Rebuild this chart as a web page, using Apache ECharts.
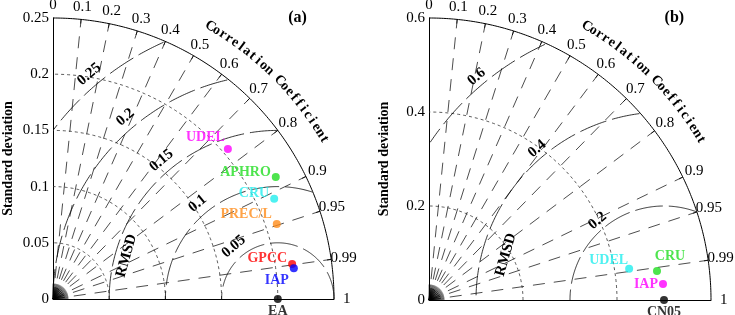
<!DOCTYPE html>
<html><head><meta charset="utf-8">
<script src="https://cdn.jsdelivr.net/npm/echarts@6/dist/echarts.min.js"></script>
<style>html,body{margin:0;padding:0;background:#fff}#c{width:735px;height:315px}</style>
</head><body><div id="c"></div>
<script>
// ---- data ----
const corrTicks = [0, 0.1, 0.2, 0.3, 0.4, 0.5, 0.6, 0.7, 0.8, 0.9, 0.95, 0.99, 1];
const corrRays = [0.1, 0.2, 0.3, 0.4, 0.5, 0.6, 0.7, 0.8, 0.9, 0.95, 0.99];

const stdMaxA = 0.25, stdStepA = 0.05;
const stdArcsA = [0.05, 0.1, 0.15, 0.2];
const rmsdA = [0.05, 0.1, 0.15, 0.2, 0.25];
const refNameA = 'EA', refStdA = 0.2;
const namesA = ['UDEL', 'APHRO', 'CRU', 'PREC/L', 'GPCC', 'IAP'];
const stdA = [0.205, 0.226, 0.216, 0.210, 0.215, 0.216];
const corrA = [0.759, 0.877, 0.911, 0.948, 0.9895, 0.992];

const stdMaxB = 0.6, stdStepB = 0.2;
const stdArcsB = [0.2, 0.4];
const rmsdB = [0.2, 0.4, 0.6];
const refNameB = 'CN05', refStdB = 0.5;
const namesB = ['UDEL', 'CRU', 'IAP'];
const stdB = [0.431, 0.489, 0.499];
const corrB = [0.988, 0.992, 0.9977];

// ---- styles ----
const SERIF = '"Liberation Serif", "Times New Roman", serif';
const colorsA = {UDEL:'#ff00ff', APHRO:'#22dd22', CRU:'#22eeee', 'PREC/L':'#ff8c1a', GPCC:'#ff0000', IAP:'#0000ff'};
const colorsB = {UDEL:'#22eeee', CRU:'#22dd22', IAP:'#ff00ff'};
const labA = {
  UDEL:{position:'left', distance:1, offset:[2,-12]},
  APHRO:{position:'left', distance:1, offset:[0,-5]},
  CRU:{position:'left', distance:1, offset:[0,-5]},
  'PREC/L':{position:'left', distance:1, offset:[0,-9]},
  GPCC:{position:'left', distance:1, offset:[0,-6]},
  IAP:{position:'left', distance:1, offset:[0,12]}
};
const labB = {
  UDEL:{position:'left', distance:0, offset:[3,-8]},
  CRU:{position:'top', distance:4, offset:[13,0]},
  IAP:{position:'left', distance:1, offset:[0,0]}
};

const deg = Math.PI / 180;

function makeDeco(M, R0, stdArcs, rmsd, rmsdOff, letter) {
  return function (params, api) {
    const P = (x, y) => api.coord([x, y]);
    const kids = [];
    const o = P(0, 0);
    const pl = (pts, st) => kids.push({type:'polyline', shape:{points:pts}, style:Object.assign({fill:'none', stroke:'#000', lineWidth:0.8}, st)});
    const txt = (p, t, font, rot, align) => kids.push({type:'text', x:p[0], y:p[1], rotation:rot||0,
      style:{text:t, font:font, fill:'#000', align:align||'center', verticalAlign:'middle'}});
    // origin fan
    for (let a = 0; a <= 90; a += 3) {
      const p = P(0.055*M*Math.cos(a*deg), 0.055*M*Math.sin(a*deg));
      kids.push({type:'line', shape:{x1:o[0], y1:o[1], x2:p[0], y2:p[1]}, style:{stroke:'#000', lineWidth:0.5}});
    }
    // std-dev arcs (short dash)
    stdArcs.forEach(s => {
      const pts = [];
      for (let a = 0; a <= 90.001; a += 1) pts.push(P(s*Math.cos(a*deg), s*Math.sin(a*deg)));
      pl(pts, {stroke:'#333', lineWidth:0.8, lineDash:[3,3]});
    });
    // correlation rays (long dash)
    corrRays.forEach(c => {
      const t = Math.acos(c);
      const p = P(M*Math.cos(t), M*Math.sin(t));
      kids.push({type:'line', shape:{x1:o[0], y1:o[1], x2:p[0], y2:p[1]}, style:{stroke:'#000', lineWidth:0.7, lineDash:[12,9]}});
    });
    // RMSD arcs
    rmsd.forEach(r => {
      let seg = []; const segs = [];
      for (let a = 0; a <= 180.001; a += 0.5) {
        const x = R0 + r*Math.cos(a*deg), y = r*Math.sin(a*deg);
        if (x >= 0 && x*x + y*y <= M*M*1.0001) seg.push(P(x, y));
        else if (seg.length) { segs.push(seg); seg = []; }
      }
      if (seg.length) segs.push(seg);
      segs.forEach(s => pl(s, {stroke:'#000', lineWidth:0.8, lineDash:[28,6]}));
      const la = 130, d = r + rmsdOff;
      txt(P(R0 + d*Math.cos(la*deg), d*Math.sin(la*deg)), String(r), 'bold 15px ' + SERIF, (la-90)*deg);
    });
    // RMSD title
    const ra = 164, rd = 0.7*R0;
    txt(P(R0 + rd*Math.cos(ra*deg), rd*Math.sin(ra*deg)), 'RMSD', 'bold 15px ' + SERIF, (ra-90)*deg);
    // outer arc
    const outer = [];
    for (let a = 0; a <= 90.001; a += 0.5) outer.push(P(M*Math.cos(a*deg), M*Math.sin(a*deg)));
    pl(outer, {stroke:'#000', lineWidth:1});
    // ticks + correlation labels
    corrTicks.forEach(c => {
      const t = Math.acos(c);
      if (c > 0 && c < 1) {
        const p1 = P(M*Math.cos(t), M*Math.sin(t)), p2 = P(0.985*M*Math.cos(t), 0.985*M*Math.sin(t));
        kids.push({type:'line', shape:{x1:p1[0], y1:p1[1], x2:p2[0], y2:p2[1]}, style:{stroke:'#000', lineWidth:0.8}});
      }
      txt(P(1.045*M*Math.cos(t), 1.045*M*Math.sin(t)), String(c), '15px ' + SERIF, 0);
    });
    // "Correlation Coefficient" along arc
    const title = 'Correlation Coefficient';
    const n = title.length, a0 = 60, a1 = 30.5, R = 1.12*M;
    for (let i = 0; i < n; i++) {
      const a = a0 + (a1 - a0) * i / (n - 1);
      if (title[i] === ' ') continue;
      txt(P(R*Math.cos(a*deg), R*Math.sin(a*deg)), title[i], 'bold 14px ' + SERIF, (a-90)*deg);
    }
    // panel letter
    txt(P(0.87*M, 1.0*M), letter, 'bold 16px ' + SERIF, 0);
    return {type:'group', children:kids};
  };
}

function pts(names, std, corr, colors, labs) {
  return names.map((nm, i) => ({
    name: nm,
    value: [std[i]*corr[i], std[i]*Math.sqrt(1 - corr[i]*corr[i])],
    itemStyle: {color: colors[nm]},
    label: Object.assign({show:true, formatter:nm, color:colors[nm], fontFamily:SERIF, fontWeight:'bold', fontSize:14}, labs[nm])
  }));
}

const refLabel = {show:true, position:'bottom', distance:1, color:'#000', fontFamily:SERIF, fontWeight:'bold', fontSize:14};

function yAx(idx, M, step) {
  return {gridIndex:idx, type:'value', min:0, max:M, interval:step,
    name:'Standard deviation', nameLocation:'middle', nameGap:38,
    nameTextStyle:{fontFamily:SERIF, fontWeight:'bold', fontSize:14, color:'#000'},
    axisLine:{show:true, lineStyle:{color:'#000', width:1}}, axisTick:{show:false},
    axisLabel:{color:'#000', fontFamily:SERIF, fontSize:15, margin:4}, splitLine:{show:false}};
}
function xAx(idx, M) {
  return {gridIndex:idx, type:'value', min:0, max:M,
    axisLine:{show:true, onZero:false, lineStyle:{color:'#000', width:1}}, axisTick:{show:false},
    axisLabel:{show:false}, splitLine:{show:false}};
}

const chart = echarts.init(document.getElementById('c'), null, {renderer:'canvas'});
chart.setOption({
  animation:false,
  backgroundColor:'#fff',
  grid:[
    {left:53, top:18, width:281, height:281},
    {left:429, top:18, width:282, height:282}
  ],
  xAxis:[xAx(0, stdMaxA), xAx(1, stdMaxB)],
  yAxis:[yAx(0, stdMaxA, stdStepA), yAx(1, stdMaxB, stdStepB)],
  series:[
    {type:'custom', xAxisIndex:0, yAxisIndex:0, clip:false, silent:true, z:1, data:[[0,0]],
      renderItem:makeDeco(stdMaxA, refStdA, stdArcsA, rmsdA, 0.011, '(a)')},
    {type:'custom', xAxisIndex:1, yAxisIndex:1, clip:false, silent:true, z:1, data:[[0,0]],
      renderItem:makeDeco(stdMaxB, refStdB, stdArcsB, rmsdB, 0.02, '(b)')},
    {type:'scatter', xAxisIndex:0, yAxisIndex:0, symbolSize:8, z:5, clip:false,
      data: pts(namesA, stdA, corrA, colorsA, labA).concat([{name:refNameA, value:[refStdA, 0], itemStyle:{color:'#000'}, label:Object.assign({formatter:refNameA}, refLabel)}])},
    {type:'scatter', xAxisIndex:1, yAxisIndex:1, symbolSize:8, z:5, clip:false,
      data: pts(namesB, stdB, corrB, colorsB, labB).concat([{name:refNameB, value:[refStdB, 0], itemStyle:{color:'#000'}, label:Object.assign({formatter:refNameB}, refLabel)}])}
  ]
});
</script></body></html>
